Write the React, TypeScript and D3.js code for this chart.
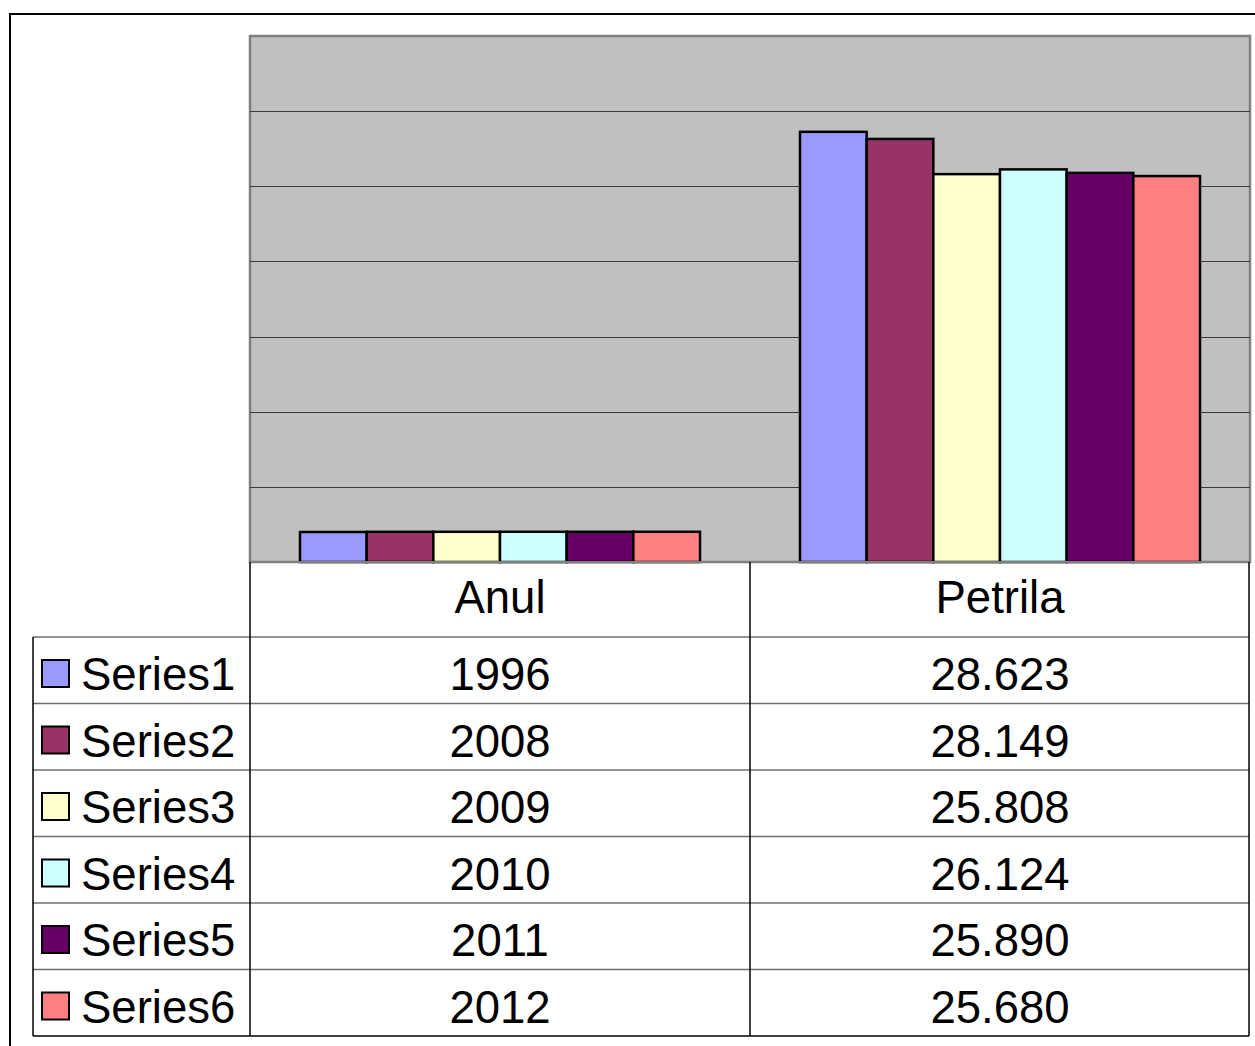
import React from 'react'
import * as d3 from 'd3'

// data
const categories = ['Anul', 'Petrila']
const seriesNames = ['Series1', 'Series2', 'Series3', 'Series4', 'Series5', 'Series6']
const anulValues = [1996, 2008, 2009, 2010, 2011, 2012]
const petrilaValues = [28.623, 28.149, 25.808, 26.124, 25.89, 25.68]
const anulLabels = ['1996', '2008', '2009', '2010', '2011', '2012']
const petrilaLabels = ['28.623', '28.149', '25.808', '26.124', '25.890', '25.680']
const colors = ['#9999FF', '#993366', '#FFFFCC', '#CCFFFF', '#660066', '#FF8080']
const yTicks = [5, 10, 15, 20, 25, 30]

const W = 1255
const H = 1046
const plot = { left: 250, right: 1250, top: 36, bottom: 562 }
const FONT = '"Liberation Sans", Arial, sans-serif'
const FS = 45.5

export default function App() {
  const x = d3.scaleBand<string>().domain(categories).range([plot.left, plot.right])
  const xInner = d3
    .scaleBand<string>()
    .domain(seriesNames)
    .range([50, x.bandwidth() - 50])
  const y = d3.scaleLinear().domain([0, 35]).range([plot.bottom, plot.top])

  // Anul row gets plotted as thousands (bars are ~2 units tall)
  const plotted = seriesNames.map((s, i) => [anulValues[i] / 1000, petrilaValues[i]])

  const headerBottom = 637
  const rowH = (1036 - headerBottom) / seriesNames.length
  const legendLeft = 33
  const tableRight = 1249

  return (
    <div style={{ position: 'absolute', left: 0, top: 0 }}>
      <svg width={W} height={H} style={{ display: 'block', fontFamily: FONT }}>
        <rect width={W} height={H} fill="#fff" />
        {/* outer chart frame */}
        <path d={`M10,${H + 2}V14H${W + 2}`} fill="none" stroke="#000" strokeWidth={2} />

        {/* plot area */}
        <rect
          x={plot.left}
          y={plot.top}
          width={plot.right - plot.left}
          height={plot.bottom - plot.top}
          fill="#C0C0C0"
          stroke="#808080"
          strokeWidth={2.5}
        />
        {yTicks.map(t => (
          <line
            key={t}
            x1={plot.left}
            x2={plot.right}
            y1={Math.round(y(t)) + 0.5}
            y2={Math.round(y(t)) + 0.5}
            stroke="#3a3a3a"
            strokeWidth={1}
          />
        ))}

        {categories.map((c, ci) => (
          <g key={c} transform={`translate(${x(c)},0)`}>
            {seriesNames.map((s, si) => {
              const v = plotted[si][ci]
              return (
                <rect
                  key={s}
                  x={xInner(s)}
                  y={y(v)}
                  width={xInner.bandwidth()}
                  height={plot.bottom - y(v)}
                  fill={colors[si]}
                  stroke="#000"
                  strokeWidth={2.5}
                />
              )
            })}
          </g>
        ))}

        {/* data table */}
        <g>
          {seriesNames.map((s, i) => {
            const top = headerBottom + i * rowH
            return (
              <g key={s}>
                <line x1={legendLeft} x2={tableRight} y1={top} y2={top} stroke="#707070" strokeWidth={1.5} />
                <rect x={42} y={top + 23} width={27} height={27} fill={colors[i]} stroke="#000" strokeWidth={2} />
                <text x={81} y={top + 53} fontSize={FS} fill="#000">
                  {s}
                </text>
                <text x={500} y={top + 53} fontSize={FS} textAnchor="middle" fill="#000">
                  {anulLabels[i]}
                </text>
                <text x={1000} y={top + 53} fontSize={FS} textAnchor="middle" fill="#000">
                  {petrilaLabels[i]}
                </text>
              </g>
            )
          })}
          {categories.map(c => (
            <text key={c} x={(x(c) as number) + x.bandwidth() / 2} y={613} fontSize={FS} textAnchor="middle" fill="#000">
              {c}
            </text>
          ))}
          <line x1={plot.left} x2={plot.right} y1={562} y2={562} stroke="#808080" strokeWidth={2} />
          <line x1={legendLeft} x2={legendLeft} y1={headerBottom} y2={1036} stroke="#000" strokeWidth={1.5} />
          <line x1={250} x2={250} y1={562} y2={1036} stroke="#000" strokeWidth={1.5} />
          <line x1={750} x2={750} y1={562} y2={1036} stroke="#000" strokeWidth={1.5} />
          <line x1={tableRight} x2={tableRight} y1={562} y2={1036} stroke="#000" strokeWidth={1.5} />
          <line x1={legendLeft} x2={tableRight} y1={1036} y2={1036} stroke="#000" strokeWidth={1.5} />
        </g>
      </svg>
    </div>
  )
}
